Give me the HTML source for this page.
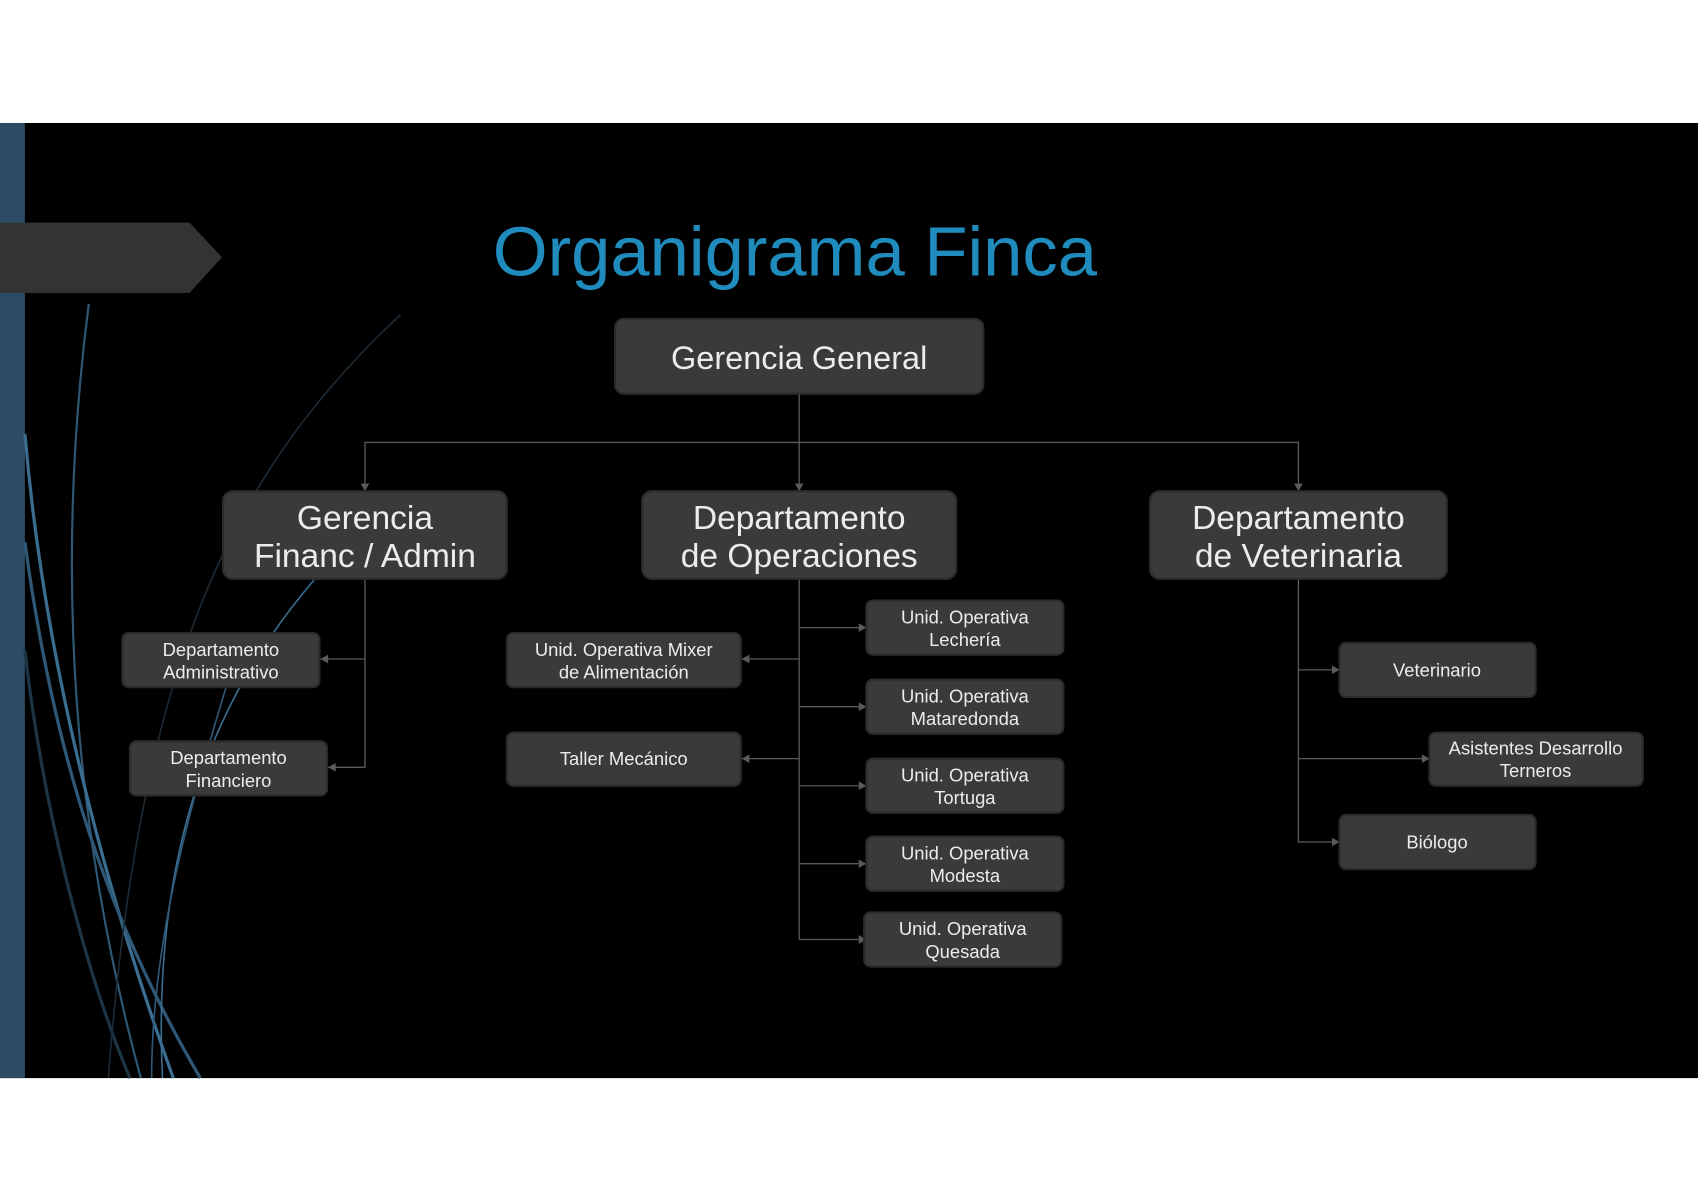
<!DOCTYPE html>
<html><head><meta charset="utf-8"><style>
html,body{margin:0;padding:0;background:#fff;}
svg{display:block;}
text{font-family:"Liberation Sans",sans-serif;fill:#ececec;text-anchor:middle;}
.b{fill:#3a3a3a;stroke:#2b2b2b;stroke-width:2;}
.l{stroke:#5a5a5a;stroke-width:1.2;fill:none;}
.a{fill:#5a5a5a;}
.s{font-size:17px;}
.m{font-size:31px;}
</style></head><body>
<svg width="1698" height="1200" viewBox="0 0 1568 1107" xmlns="http://www.w3.org/2000/svg">
<rect x="0" y="0" width="1568" height="1107" fill="#fff"/>
<rect x="0" y="113" width="1568" height="882" fill="#000"/>
<rect x="0" y="113" width="23" height="882" fill="#2d4b62"/>
<g fill="none" stroke-width="2">
<path d="M82 280 C60 450 50 700 130 995" stroke="#2f5876"/>
<path d="M23 400 C40 600 90 800 160 995" stroke="#3a6d90" stroke-width="3"/>
<path d="M23 500 C50 700 100 850 185 995" stroke="#2f5876" stroke-width="3"/>
<path d="M23 600 C40 750 80 900 120 995" stroke="#1c3444" stroke-width="3"/>
<path d="M290 535 C200 640 140 780 150 995" stroke="#3a6d90" stroke-width="1.5"/>
<path d="M370 290 C220 430 130 600 100 995" stroke="#1c2a35" stroke-width="1.5"/>
<path d="M210 630 C170 760 140 880 140 995" stroke="#2f5876" stroke-width="1.5"/>
</g>
<polygon points="0,205 175,205 205,237 175,270 0,270" fill="#333"/>
<text x="734" y="254" style="font-size:64px;fill:#1f8cbd" textLength="558" lengthAdjust="spacingAndGlyphs">Organigrama Finca</text>
<path class="l" d="M738 363 V448 M337 448 V408 H1199 V448"/>
<polygon class="a" points="333,446 341,446 337,453"/>
<polygon class="a" points="734,446 742,446 738,453"/>
<polygon class="a" points="1195,446 1203,446 1199,453"/>
<path class="l" d="M337 534 V708 H302 M337 608 H295"/>
<polygon class="a" points="296,608 303,604 303,612"/>
<polygon class="a" points="303,708 310,704 310,712"/>
<path class="l" d="M738 534 V867 H800 M738 608 H684 M738 700 H684 M738 579 H800 M738 652 H800 M738 725 H800 M738 797 H800"/>
<polygon class="a" points="685,608 692,604 692,612"/>
<polygon class="a" points="685,700 692,696 692,704"/>
<polygon class="a" points="800,579 793,575 793,583"/>
<polygon class="a" points="800,652 793,648 793,656"/>
<polygon class="a" points="800,725 793,721 793,729"/>
<polygon class="a" points="800,797 793,793 793,801"/>
<polygon class="a" points="800,867 793,863 793,871"/>
<path class="l" d="M1199 534 V777 H1237 M1199 618 H1237 M1199 700 H1320"/>
<polygon class="a" points="1237,618 1230,614 1230,622"/>
<polygon class="a" points="1320,700 1313,696 1313,704"/>
<polygon class="a" points="1237,777 1230,773 1230,781"/>
<rect class="b" x="568" y="294" width="340" height="69" rx="8"/>
<text x="738" y="340" style="font-size:30px">Gerencia General</text>
<rect class="b" x="206" y="453" width="262" height="81" rx="9"/>
<text class="m" x="337" y="488">Gerencia</text><text class="m" x="337" y="523">Financ / Admin</text>
<rect class="b" x="593" y="453" width="290" height="81" rx="9"/>
<text class="m" x="738" y="488">Departamento</text><text class="m" x="738" y="523">de Operaciones</text>
<rect class="b" x="1062" y="453" width="274" height="81" rx="9"/>
<text class="m" x="1199" y="488">Departamento</text><text class="m" x="1199" y="523">de Veterinaria</text>
<rect class="b" x="113" y="584" width="182" height="50" rx="6"/>
<text class="s" x="204" y="605">Departamento</text><text class="s" x="204" y="626">Administrativo</text>
<rect class="b" x="120" y="684" width="182" height="50" rx="6"/>
<text class="s" x="211" y="705">Departamento</text><text class="s" x="211" y="726">Financiero</text>
<rect class="b" x="468" y="584" width="216" height="50" rx="6"/>
<text class="s" x="576" y="605">Unid. Operativa Mixer</text><text class="s" x="576" y="626">de Alimentación</text>
<rect class="b" x="468" y="676" width="216" height="49" rx="6"/>
<text class="s" x="576" y="706">Taller Mecánico</text>
<rect class="b" x="800" y="554" width="182" height="50" rx="6"/>
<text class="s" x="891" y="575">Unid. Operativa</text><text class="s" x="891" y="596">Lechería</text>
<rect class="b" x="800" y="627" width="182" height="50" rx="6"/>
<text class="s" x="891" y="648">Unid. Operativa</text><text class="s" x="891" y="669">Mataredonda</text>
<rect class="b" x="800" y="700" width="182" height="50" rx="6"/>
<text class="s" x="891" y="721">Unid. Operativa</text><text class="s" x="891" y="742">Tortuga</text>
<rect class="b" x="800" y="772" width="182" height="50" rx="6"/>
<text class="s" x="891" y="793">Unid. Operativa</text><text class="s" x="891" y="814">Modesta</text>
<rect class="b" x="798" y="842" width="182" height="50" rx="6"/>
<text class="s" x="889" y="863">Unid. Operativa</text><text class="s" x="889" y="884">Quesada</text>
<rect class="b" x="1237" y="593" width="181" height="50" rx="6"/>
<text class="s" x="1327" y="624">Veterinario</text>
<rect class="b" x="1320" y="676" width="197" height="49" rx="6"/>
<text class="s" x="1418" y="696">Asistentes Desarrollo</text><text class="s" x="1418" y="717">Terneros</text>
<rect class="b" x="1237" y="752" width="181" height="50" rx="6"/>
<text class="s" x="1327" y="783">Biólogo</text>
</svg>
</body></html>
